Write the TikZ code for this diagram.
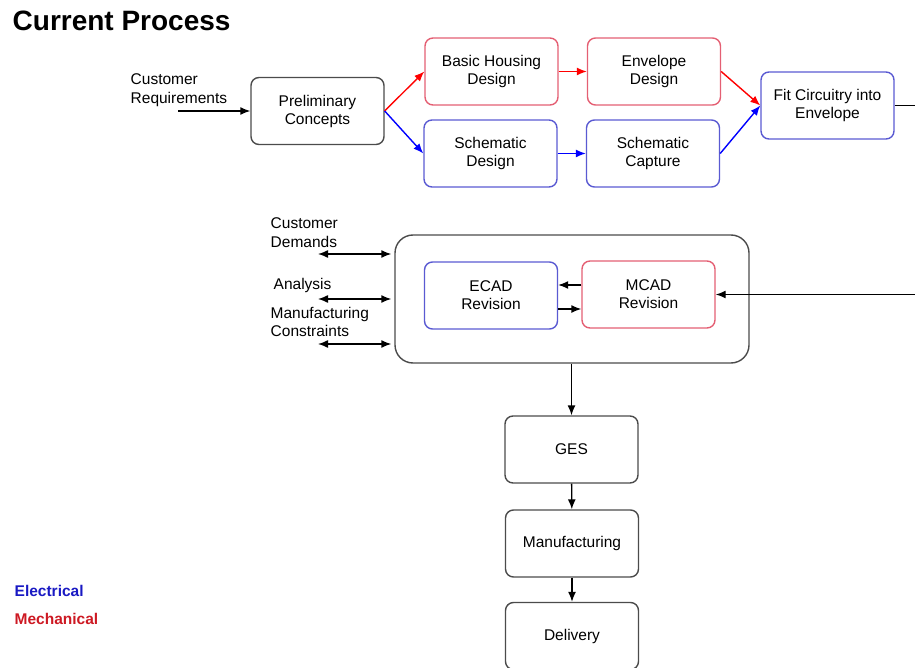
\documentclass[tikz,border=0pt]{standalone}
\usepackage{fontspec}
\setmainfont{Liberation Sans}
\usetikzlibrary{arrows.meta}

\definecolor{elecbox}{RGB}{90,90,210}
\definecolor{mechbox}{RGB}{228,95,115}
\definecolor{boxgray}{RGB}{75,75,75}
\definecolor{electext}{RGB}{25,25,195}
\definecolor{mechtext}{RGB}{205,25,35}

\begin{document}
\begin{tikzpicture}[x=1pt,y=-1pt,line width=1.4pt,
    tip/.style={-{Latex[length=10pt,width=8pt]}},
    twotip/.style={{Latex[length=10pt,width=8pt]}-{Latex[length=10pt,width=8pt]}}]

      \useasboundingbox (0,0) rectangle (915,668);

      \node[anchor=base west,inner sep=0,font=\fontsize{28}{32}\selectfont\bfseries] (title) at (12,31) {Current Process};

      \begin{scope}[every node/.style={draw,rounded corners=8pt,minimum width=133pt,minimum height=67pt,align=center,font=\fontsize{15.5}{18}\selectfont}]
        \node[draw=boxgray] (prelim)   at (317.5,111)   {Preliminary\\Concepts};
        \node[draw=mechbox] (housing)  at (491.5,71.5)  {Basic Housing\\Design};
        \node[draw=mechbox] (envelope) at (654,71.5)    {Envelope\\Design};
        \node[draw=elecbox] (schdes)   at (490.5,153.5) {Schematic\\Design};
        \node[draw=elecbox] (schcap)   at (653,153.5)   {Schematic\\Capture};
        \node[draw=elecbox] (fit)      at (827.5,105.5) {Fit Circuitry into\\Envelope};
        \node[draw=boxgray,minimum width=354pt,minimum height=128pt,rounded corners=18pt] (revision) at (572,299) {};
        \node[draw=elecbox] (ecad)     at (491,295.5)   {ECAD\\Revision};
        \node[draw=mechbox] (mcad)     at (648.5,294.5) {MCAD\\Revision};
        \node[draw=boxgray] (ges)      at (571.5,449.5) {GES};
        \node[draw=boxgray] (manuf)    at (572,543.5)   {Manufacturing};
        \node[draw=boxgray] (delivery) at (572,636)     {Delivery};
      \end{scope}

      \begin{scope}[every node/.style={anchor=west,align=left,inner sep=0,font=\fontsize{15.5}{18.5}\selectfont}]
        \node (custreq)  at (130,90)  {Customer\\Requirements};
        \node (custdem)  at (270,232.5) {Customer\\Demands};
        \node (analysis) at (273,285) {Analysis};
        \node (mfgcon)   at (270,322) {Manufacturing\\Constraints};
        \node[text=electext,font=\fontsize{15.5}{18}\selectfont\bfseries] (elec) at (14,591) {Electrical};
        \node[text=mechtext,font=\fontsize{15.5}{18}\selectfont\bfseries] (mech) at (14,619) {Mechanical};
      \end{scope}

      \coordinate (reqin) at (178,111);
      \coordinate (demin) at (318,254);
      \coordinate (anain) at (318,299);
      \coordinate (conin) at (318,344);

      \begin{scope}[every edge/.style={draw,red,tip}]
        \path (prelim.east)   edge (housing.west);
        \path (housing)       edge (envelope);
        \path (envelope.east) edge (fit.west);
      \end{scope}

      \begin{scope}[every edge/.style={draw,blue,tip}]
        \path (prelim.east)   edge (schdes.west);
        \path (schdes)        edge (schcap);
        \path (schcap.east)   edge (fit.west);
      \end{scope}

      \begin{scope}[every edge/.style={draw,black,tip}]
        \path (reqin) edge (prelim.west);
        \path ([yshift=9.5pt]mcad.west) edge ([yshift=9.5pt]mcad.west -| ecad.east);
        \path ([yshift=-13.5pt]ecad.east) edge ([yshift=-13.5pt]ecad.east -| mcad.west);
        \path (revision.south -| ges.north) edge (ges.north);
        \path (ges) edge (manuf);
        \path (manuf) edge (delivery);
      \end{scope}

      \begin{scope}[every edge/.style={draw,black,twotip,shorten >=3pt}]
        \path (demin) edge (demin -| revision.west);
        \path (anain) edge (anain -| revision.west);
        \path (conin) edge (conin -| revision.west);
      \end{scope}

      \draw[tip] (fit.east) -- ++(40,0) |- (mcad.east);

\end{tikzpicture}
\end{document}
